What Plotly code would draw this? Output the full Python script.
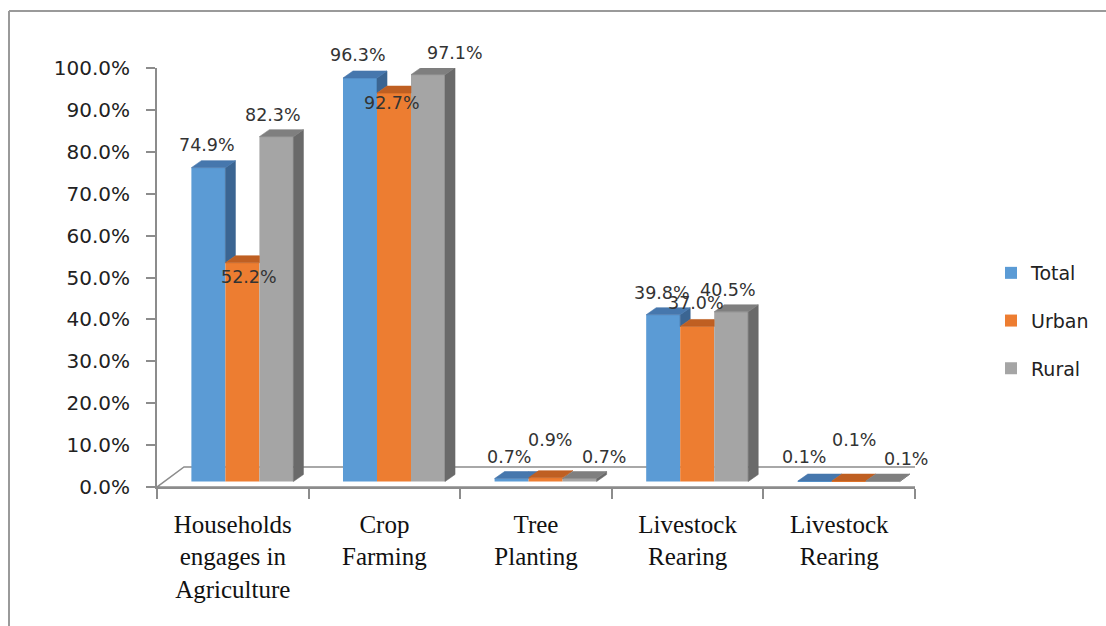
import plotly.graph_objects as go

# ---------------- data ----------------
categories = ["Households<br>engages in<br>Agriculture", "Crop<br>Farming",
              "Tree<br>Planting", "Livestock<br>Rearing", "Livestock<br>Rearing"]
series_names = ["Total", "Urban", "Rural"]
total = [74.9, 96.3, 0.7, 39.8, 0.1]
urban = [52.2, 92.7, 0.9, 37.0, 0.1]
rural = [82.3, 97.1, 0.7, 40.5, 0.1]
y_tick_values = [0, 10, 20, 30, 40, 50, 60, 70, 80, 90, 100]

series_values = [total, urban, rural]

# ---------------- styles ----------------
front_colors = ["#5B9BD5", "#ED7D31", "#A5A5A5"]
top_colors = ["#4677AD", "#BF5F22", "#7F7F7F"]
side_colors = ["#3B6592", "#AE561E", "#6A6A6A"]
# data-label nudges in pixels (dx, dy), per series, per category
label_nudges = [
    [(-1, 23), (-2, 23), (-3, 22), (-1, 22), (-11, 24)],
    [(7, -14), (-2, -10), (4, 38), (-1, 23), (5, 41)],
    [(-3, 22), (27, 22), (24, 22), (-3, 22), (23, 22)],
]

W, H = 1106, 626
L, R, T, B = 157, 191, 68, 139
plot_w = W - L - R
plot_h = H - T - B
n_cat = len(categories)
cat_px = plot_w / n_cat
pct_px = plot_h / 100.0

# 3-D projection parameters (pixels)
bar_shift_x = 9.6      # bar plane shift right
bar_shift_y = 5.5      # bar plane shift up
depth_x, depth_y = 10, 7          # bar depth
floor_dx, floor_dy = 27, 20       # floor depth
bargap = 0.327

sx = bar_shift_x / cat_px
sy = bar_shift_y / pct_px
dx = depth_x / cat_px
dy = depth_y / pct_px
fdx = floor_dx / cat_px
fdy = floor_dy / pct_px
bw = (1 - bargap) / 3
idx = list(range(n_cat))


def clip(poly, a, b, c):
    """keep part of polygon with a*x + b*y <= c"""
    out = []
    n = len(poly)
    for j in range(n):
        p, q = poly[j], poly[(j + 1) % n]
        fp = a * p[0] + b * p[1] - c
        fq = a * q[0] + b * q[1] - c
        if fp <= 0:
            out.append(p)
        if (fp < 0 < fq) or (fq < 0 < fp):
            t = fp / (fp - fq)
            out.append((p[0] + t * (q[0] - p[0]), p[1] + t * (q[1] - p[1])))
    return out if len(out) >= 3 else []


def poly_xy(polys):
    xs, ys = [], []
    for pg in polys:
        if not pg:
            continue
        for (x, y) in pg + [pg[0]]:
            xs.append(x)
            ys.append(y)
        xs.append(None)
        ys.append(None)
    return xs, ys


fig = go.Figure()

# front faces (bars)
for k, (name, vals) in enumerate(zip(series_names, series_values)):
    fig.add_trace(go.Bar(
        x=idx, y=vals, name=name, legendgroup=name,
        marker=dict(color=front_colors[k], line=dict(width=0)),
        xaxis="x2", yaxis="y2", hoverinfo="skip"))

# side and top faces
for k, (name, vals) in enumerate(zip(series_names, series_values)):
    sides, tops = [], []
    for i in idx:
        v = vals[i]
        l = i - (1 - bargap) / 2 + k * bw
        r = l + bw
        vn = series_values[k + 1][i] if k < 2 else 0
        if k == 2:
            sides.append([(r, 0), (r + dx, dy), (r + dx, v + dy), (r, v)])
        elif vn < v:
            sides.append([(r, vn), (r + dx, vn + dy), (r + dx, v + dy), (r, v)])
        top = [(l, v), (l + dx, v + dy), (r + dx, v + dy), (r, v)]
        if k < 2 and vn > v:
            tops.append(clip(top, 1, 0, r))
            part = clip(top, -1, 0, -r)
            tops.append(clip(part, 0, -1, -vn) if part else [])
        else:
            tops.append(top)
    for polys, col in ((sides, side_colors[k]), (tops, top_colors[k])):
        xs, ys = poly_xy(polys)
        fig.add_trace(go.Scatter(
            x=xs, y=ys, mode="lines", fill="toself", fillcolor=col,
            line=dict(width=0.6, color=col), legendgroup=name,
            showlegend=False, hoverinfo="skip", xaxis="x2", yaxis="y2"))

# data labels
for k, vals in enumerate(series_values):
    for i in idx:
        l = i - (1 - bargap) / 2 + k * bw
        ndx, ndy = label_nudges[k][i]
        fig.add_annotation(
            x=l + bw / 2, y=vals[i], xref="x2", yref="y2",
            text=f"{vals[i]:.1f}%", showarrow=False,
            xanchor="center", yanchor="middle", xshift=ndx, yshift=ndy,
            font=dict(family="DejaVu Sans", size=17.5, color="#333333"))

axis_col = "#8C8C8C"
# floor
fig.add_shape(
    type="path", xref="x", yref="y", layer="below",
    path=(f"M {-0.5} 0 L {n_cat - 0.5} 0 L {n_cat - 0.5 + fdx} {fdy} "
          f"L {-0.5 + fdx} {fdy} Z"),
    line=dict(color=axis_col, width=1.5), fillcolor="white")

# outer frame (top and left edges)
frame_col = "#9A9A9A"
fig.add_shape(type="line", xref="paper", yref="paper",
              xsizemode="pixel", ysizemode="pixel", xanchor=0, yanchor=1,
              x0=9 - L, x1=W - L + 10, y0=T - 11, y1=T - 11,
              line=dict(color=frame_col, width=2))
fig.add_shape(type="line", xref="paper", yref="paper",
              xsizemode="pixel", ysizemode="pixel", xanchor=0, yanchor=1,
              x0=9 - L, x1=9 - L, y0=T - 11, y1=-(H - T) - 10,
              line=dict(color=frame_col, width=2))

fig.update_layout(
    width=W, height=H,
    margin=dict(l=L, r=R, t=T, b=B, autoexpand=False),
    paper_bgcolor="white", plot_bgcolor="white",
    barmode="group", bargap=bargap, bargroupgap=0,
    showlegend=True,
    legend=dict(x=(991 - L) / plot_w, xanchor="left", y=(H - B - 321) / plot_h,
                yanchor="middle", font=dict(family="DejaVu Sans", size=19, color="#222222"),
                tracegroupgap=20, bgcolor="rgba(0,0,0,0)"),
    xaxis=dict(range=[-0.5, n_cat - 0.5], tickmode="array", tickvals=idx,
               ticktext=categories, ticks="", showgrid=False, zeroline=False,
               showline=True, linecolor=axis_col, linewidth=1.5,
               tickfont=dict(family="Liberation Serif", size=25, color="#111111"),
               ticklabelstandoff=14,
               minor=dict(tickmode="array", tickvals=[i - 0.5 for i in range(n_cat + 1)],
                          ticks="outside", ticklen=10, tickcolor=axis_col, tickwidth=1.5,
                          showgrid=False)),
    yaxis=dict(range=[0, 100], tickmode="array", tickvals=y_tick_values,
               ticktext=[f"{v:.1f}%" for v in y_tick_values],
               ticks="outside", ticklen=9, tickcolor=axis_col, tickwidth=1.5,
               showgrid=False, zeroline=False, showline=True,
               linecolor=axis_col, linewidth=2,
               tickfont=dict(family="DejaVu Sans", size=20, color="#222222"),
               ticklabelstandoff=12),
    xaxis2=dict(overlaying="x", range=[-0.5 - sx, n_cat - 0.5 - sx],
                visible=False, anchor="y2"),
    yaxis2=dict(overlaying="y", range=[-sy, 100 - sy], visible=False, anchor="x2"),
)

fig.write_html("out.html")
